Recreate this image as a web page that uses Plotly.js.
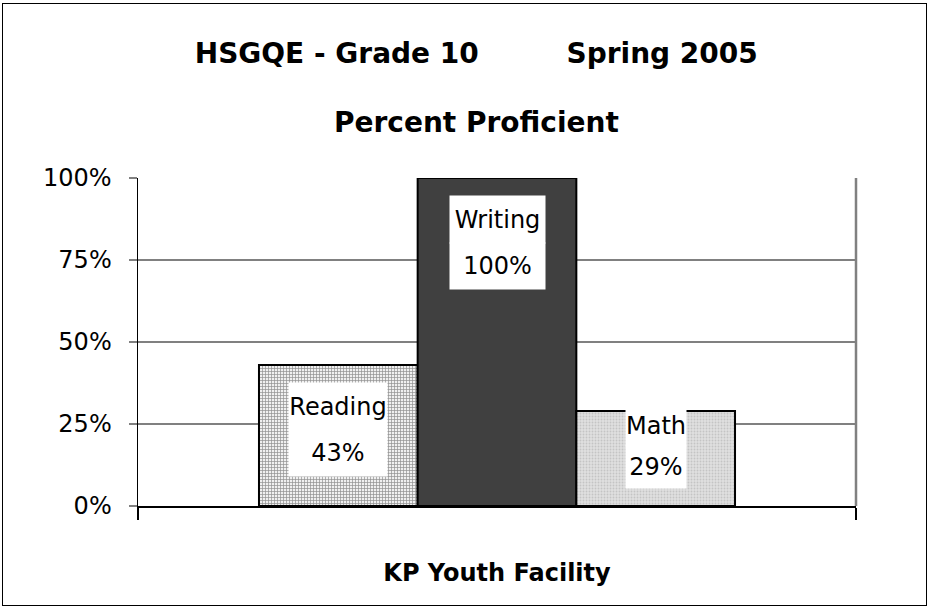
<!DOCTYPE html>
<html>
<head>
<meta charset="utf-8">
<script src="https://cdn.plot.ly/plotly-3.0.1.min.js"></script>
<style>
  html, body { margin: 0; padding: 0; background: #ffffff; }
  #chart { position: absolute; left: 0; top: 0; width: 932px; height: 611px; }
  #frame { position: absolute; left: 2px; top: 3px; width: 923px; height: 601px; border: 1px solid #000; pointer-events: none; }
</style>
</head>
<body>
<div id="chart"></div>
<div id="frame"></div>
<script>
// ---- data ----
const categories = ["KP Youth Facility"];
const seriesNames = ["Reading", "Writing", "Math"];
const seriesValues = [43, 100, 29];
const yTickValues = [0, 25, 50, 75, 100];
const yTickLabels = ["0%", "25%", "50%", "75%", "100%"];
const titleLine1 = "HSGQE - Grade 10\u00A0\u00A0\u00A0\u00A0\u00A0\u00A0\u00A0\u00A0\u00A0Spring 2005";
const titleLine2 = "Percent Proficient";

// ---- style ----
const FONT = '"Comic Sans MS", "DejaVu Sans", sans-serif';
const barGap = 0.337;
const fills = [
  { color: '#b8b8b8', pattern: { shape: '+', fgcolor: '#909090', bgcolor: '#f0f0f0', size: 3, solidity: 0.4 } },
  { color: '#404040' },
  { color: '#d8d8d8', pattern: { shape: '.', fgcolor: '#c4c4c4', bgcolor: '#e0e0e0', size: 3, solidity: 0.3 } }
];
const labelCenterY = [23.5, 80.6, 18.6];   // label box centre (in axis units)
const labelBoxW = [96, 93, 58];
const labelHalfH = [[45, 44], [45, 44], [39, 40]];

const traces = seriesNames.map((name, i) => ({
  type: 'bar',
  name: name,
  x: categories,
  y: [seriesValues[i]],
  marker: Object.assign({ line: { color: '#000000', width: 2 } }, fills[i]),
  hoverinfo: 'skip'
}));

const annotations = [];
seriesNames.forEach((name, i) => {
  const xOff = (i - (seriesNames.length - 1) / 2) * (1 - barGap) / seriesNames.length;
  annotations.push({
    xref: 'x', yref: 'y', x: xOff, y: labelCenterY[i],
    text: seriesValues[i] + '%', showarrow: false, yanchor: 'top', valign: 'middle',
    width: labelBoxW[i], height: labelHalfH[i][1], borderpad: 1,
    bgcolor: '#ffffff', font: { family: FONT, size: 24, color: '#000' }
  });
  annotations.push({
    xref: 'x', yref: 'y', x: xOff, y: labelCenterY[i], yshift: -2,
    text: name, showarrow: false, yanchor: 'bottom', valign: 'middle',
    width: labelBoxW[i], height: labelHalfH[i][0], borderpad: 1,
    bgcolor: '#ffffff', font: { family: FONT, size: 24, color: '#000' }
  });
});
annotations.push({
  xref: 'paper', yref: 'paper', x: 0.471, y: 1.1707, yanchor: 'middle',
  text: '<b>' + titleLine2 + '</b>', showarrow: false,
  font: { family: FONT, size: 28, color: '#000' }
});

const layout = {
  width: 932, height: 611,
  margin: { l: 138, r: 76, t: 178, b: 105 },
  paper_bgcolor: '#ffffff', plot_bgcolor: '#ffffff',
  showlegend: false,
  barmode: 'group', bargap: barGap, bargroupgap: 0,
  title: {
    text: '<b>' + titleLine1 + '</b>',
    x: 0.511, xanchor: 'center', xref: 'container',
    y: 1 - 53 / 611, yanchor: 'middle', yref: 'container',
    font: { family: FONT, size: 28, color: '#000' }
  },
  xaxis: {
    type: 'category',
    showline: true, linecolor: '#000', linewidth: 2,
    ticks: 'outside', tickson: 'boundaries', ticklen: 12, tickwidth: 1.5, tickcolor: '#000',
    tickfont: { family: FONT, size: 24, color: '#000' },
    ticklabelstandoff: 44,
    tickprefix: '<b>', ticksuffix: '</b>',
    showgrid: false, zeroline: false, fixedrange: true
  },
  yaxis: {
    range: [0, 100], tickmode: 'array', tickvals: yTickValues, ticktext: yTickLabels,
    showline: true, linecolor: '#000', linewidth: 1.5,
    ticks: 'outside', ticklen: 8, tickwidth: 2, tickcolor: '#808080',
    tickfont: { family: FONT, size: 24, color: '#000' },
    ticklabelstandoff: 12,
    showgrid: true, gridcolor: '#808080', gridwidth: 2,
    zeroline: false, fixedrange: true
  },
  shapes: [
    { type: 'line', xref: 'paper', yref: 'paper', x0: 1, x1: 1, y0: 0, y1: 1,
      line: { color: '#808080', width: 2.5 } }
  ],
  annotations: annotations
};

Plotly.newPlot('chart', traces, layout, { displayModeBar: false, staticPlot: true });
</script>
</body>
</html>
